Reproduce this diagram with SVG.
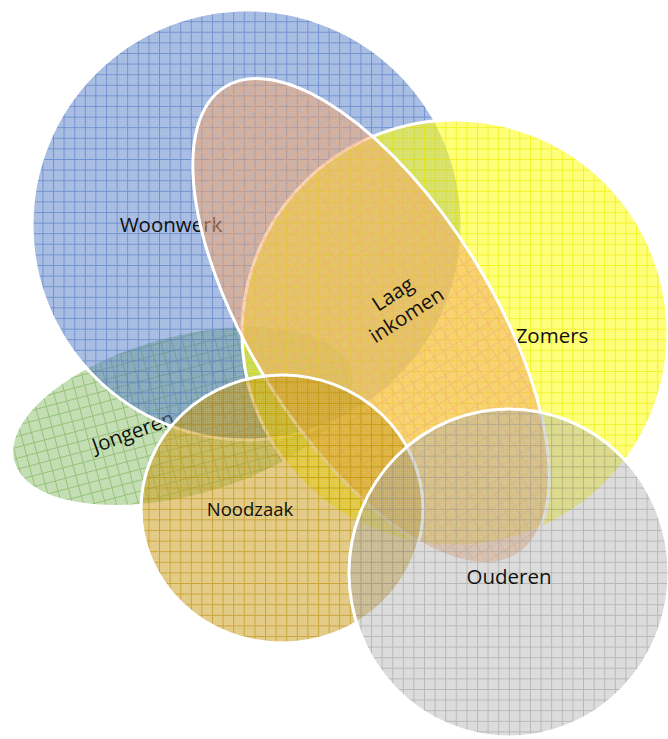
<svg xmlns="http://www.w3.org/2000/svg" width="668" height="739" viewBox="0 0 668 739">
  <defs>
    <style>
      .lbl { font-family: "Open Sans", "Liberation Sans", sans-serif; font-size: 20.5px; fill: #111; }
      .sm { font-size: 18.5px; }
      .edge { fill: url(#chk); stroke: #ffffff; stroke-width: 3; }
    </style>
    <pattern id="chk" width="2" height="2" patternUnits="userSpaceOnUse">
      <rect width="1" height="1" fill="#ffffff" fill-opacity="0.1"/>
    </pattern>
    <pattern id="pB" width="10.6" height="10.6" patternUnits="userSpaceOnUse">
      <rect width="10.6" height="10.6" fill="#4472c4" fill-opacity="0.48"/>
      <path d="M0 0.5H10.6M0.5 0V10.6" stroke="#3f6cc0" stroke-opacity="0.55" stroke-width="1"/>
    </pattern>
    <pattern id="pY" width="10.6" height="10.6" patternUnits="userSpaceOnUse">
      <rect width="10.6" height="10.6" fill="#ffff00" fill-opacity="0.55"/>
      <path d="M0 0.5H10.6M0.5 0V10.6" stroke="#eeee00" stroke-opacity="0.7" stroke-width="1"/>
    </pattern>
    <pattern id="pG" width="10.6" height="10.6" patternUnits="userSpaceOnUse">
      <rect width="10.6" height="10.6" fill="#70ad47" fill-opacity="0.42"/>
      <path d="M0 0.5H10.6M0.5 0V10.6" stroke="#6aa843" stroke-opacity="0.55" stroke-width="1"/>
    </pattern>
    <pattern id="pO" width="10.6" height="10.6" patternUnits="userSpaceOnUse">
      <rect width="10.6" height="10.6" fill="#f0a060" fill-opacity="0.47"/>
      <path d="M0 0.5H10.6M0.5 0V10.6" stroke="#f4a878" stroke-opacity="0.55" stroke-width="1"/>
    </pattern>
    <pattern id="pN" width="10.6" height="10.6" patternUnits="userSpaceOnUse">
      <rect width="10.6" height="10.6" fill="#c99a10" fill-opacity="0.52"/>
      <path d="M0 0.5H10.6M0.5 0V10.6" stroke="#b88a00" stroke-opacity="0.6" stroke-width="1"/>
    </pattern>
    <pattern id="pA" width="10.6" height="10.6" patternUnits="userSpaceOnUse">
      <rect width="10.6" height="10.6" fill="#a5a5a5" fill-opacity="0.4"/>
      <path d="M0 0.5H10.6M0.5 0V10.6" stroke="#999999" stroke-opacity="0.55" stroke-width="1"/>
    </pattern>
  </defs>

  <g id="connectors"></g>

  <g id="jongeren">
    <ellipse cx="183" cy="416" rx="176" ry="81" transform="rotate(-15 183 416)" fill="url(#pG)"/>
    <ellipse cx="183" cy="416" rx="176" ry="81" transform="rotate(-15 183 416)" class="edge"/>
    <text class="lbl" x="133" y="439" text-anchor="middle" transform="rotate(-20 133 432)">Jongeren</text>
  </g>

  <g id="woonwerk">
    <circle cx="247" cy="225" r="215" fill="url(#pB)"/>
    <circle cx="247" cy="225" r="215" class="edge"/>
    <text class="lbl" x="171" y="232" text-anchor="middle">Woonwerk</text>
  </g>

  <g id="zomers">
    <circle cx="455" cy="333" r="213" fill="url(#pY)"/>
    <circle cx="455" cy="333" r="213" class="edge"/>
    <text class="lbl" x="552" y="343" text-anchor="middle">Zomers</text>
  </g>

  <g id="laag-inkomen">
    <ellipse cx="371" cy="321" rx="276" ry="120" transform="rotate(58 371 321)" fill="url(#pO)"/>
    <ellipse cx="371" cy="321" rx="276" ry="120" transform="rotate(58 371 321)" class="edge"/>
    <g transform="rotate(-33 400 305)">
      <text class="lbl" x="400" y="299" text-anchor="middle">Laag</text>
      <text class="lbl" x="400" y="324" text-anchor="middle">inkomen</text>
    </g>
  </g>

  <g id="noodzaak">
    <ellipse cx="282" cy="509" rx="141" ry="134" fill="url(#pN)"/>
    <ellipse cx="282" cy="509" rx="141" ry="134" class="edge"/>
    <text class="lbl sm" x="250" y="516" text-anchor="middle">Noodzaak</text>
  </g>

  <g id="ouderen">
    <ellipse cx="509" cy="573" rx="160" ry="164" fill="url(#pA)"/>
    <ellipse cx="509" cy="573" rx="160" ry="164" class="edge"/>
    <text class="lbl" x="509" y="584" text-anchor="middle">Ouderen</text>
  </g>
</svg>
